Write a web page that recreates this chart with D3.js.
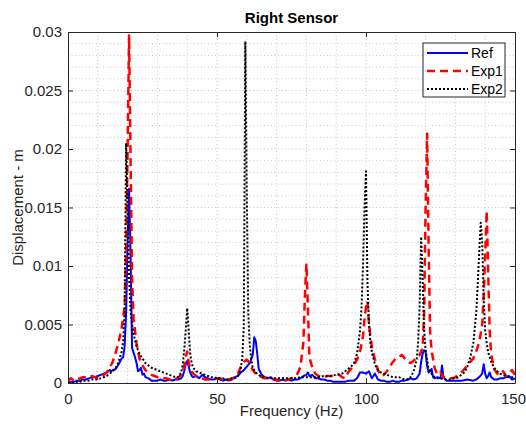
<!DOCTYPE html>
<html>
<head>
<meta charset="utf-8">
<script src="https://cdn.jsdelivr.net/npm/d3@7"></script>
<style>
    body { margin: 0; background: #fff; }
    svg { font-family: "Liberation Sans", Arial, sans-serif; }
</style>
</head>
<body>
<div id="chart"></div>
<script>
// [frequency Hz, displacement m]
const refData = [[0,0.0000],[1,0.0001],[2,0.0001],[3,0.0002],[4,0.0002],[5,0.0003],[6,0.0003],[7,0.0004],[8,0.0005],[9,0.0005],[10,0.0006],[11,0.0007],[12,0.0008],[13,0.0009],[14,0.0011],[14.5,0.0010],[15,0.0011],[16,0.0012],[17,0.0016],[18,0.0021],[18.5,0.0022],[19,0.0031],[19.5,0.0060],[20,0.0120],[20.5,0.0166],[21,0.0110],[21.5,0.0030],[22,0.0026],[22.5,0.0022],[23,0.0017],[23.5,0.0010],[24,0.0011],[24.5,0.0013],[25,0.0007],[25.5,0.0008],[26,0.0005],[27,0.0004],[28,0.0002],[29,0.0002],[30,0.0002],[31,0.0003],[32,0.0002],[33,0.0002],[34,0.0003],[35,0.0002],[36,0.0003],[37,0.0003],[38,0.0004],[38.5,0.0006],[39,0.0010],[39.5,0.0016],[40,0.0019],[40.5,0.0014],[41,0.0009],[41.5,0.0006],[42,0.0005],[43,0.0006],[43.5,0.0005],[44,0.0004],[45,0.0007],[46,0.0005],[47,0.0004],[48,0.0003],[49,0.0003],[50,0.0004],[51,0.0003],[52,0.0002],[53,0.0003],[54,0.0002],[55,0.0003],[56,0.0005],[57,0.0006],[58,0.0009],[59,0.0011],[60,0.0014],[61,0.0017],[62,0.0024],[62.5,0.0039],[63,0.0036],[63.5,0.0025],[64,0.0012],[65,0.0007],[66,0.0005],[67,0.0004],[68,0.0005],[69,0.0003],[70,0.0002],[71,0.0002],[72,0.0003],[73,0.0002],[74,0.0003],[75,0.0002],[76,0.0003],[77,0.0003],[78,0.0004],[79,0.0006],[80,0.0007],[80.5,0.0009],[81,0.0006],[82,0.0007],[83,0.0004],[84,0.0004],[85,0.0003],[86,0.0003],[87,0.0002],[88,0.0002],[89,0.0001],[90,0.0001],[91,0.0001],[92,0.0001],[93,0.0001],[94,0.0002],[95,0.0002],[96,0.0002],[97,0.0004],[98,0.0009],[99,0.0009],[100,0.0008],[101,0.0010],[102,0.0004],[103,0.0008],[104,0.0003],[105,0.0002],[106,0.0002],[107,0.0001],[108,0.0001],[109,0.0002],[110,0.0001],[111,0.0001],[112,0.0002],[113,0.0002],[114,0.0003],[115,0.0004],[116,0.0003],[117,0.0004],[118,0.0008],[118.5,0.0018],[119,0.0025],[119.5,0.0028],[120,0.0027],[120.5,0.0015],[121,0.0009],[121.5,0.0010],[122,0.0012],[122.5,0.0005],[123,0.0004],[124,0.0005],[125,0.0004],[125.5,0.0015],[126,0.0005],[127,0.0002],[128,0.0002],[130,0.0002],[132,0.0002],[134,0.0003],[136,0.0002],[137,0.0003],[138,0.0005],[139,0.0008],[139.5,0.0016],[140,0.0008],[140.5,0.0004],[141,0.0006],[141.5,0.0009],[142,0.0005],[143,0.0003],[144,0.0003],[145,0.0004],[146,0.0004],[147,0.0005],[148,0.0006],[149,0.0003],[150,0.0004]];

const exp1Data = [[0,0.0001],[0.5,0.0003],[1,0.0004],[2,0.0002],[3,0.0003],[4,0.0004],[5,0.0005],[6,0.0005],[7,0.0006],[8,0.0006],[9,0.0005],[10,0.0004],[11,0.0005],[12,0.0007],[13,0.0009],[14,0.0013],[15,0.0018],[16,0.0026],[17,0.0035],[18,0.0047],[19,0.0065],[19.5,0.0110],[20,0.0200],[20.5,0.0297],[21,0.0190],[21.5,0.0090],[22,0.0055],[23,0.0034],[24,0.0021],[25,0.0015],[26,0.0011],[27,0.0009],[28,0.0007],[29,0.0006],[30,0.0005],[31,0.0005],[32,0.0004],[33,0.0004],[34,0.0003],[35,0.0002],[36,0.0003],[37,0.0005],[38,0.0007],[39,0.0014],[39.5,0.0022],[40,0.0027],[40.5,0.0018],[41,0.0012],[42,0.0008],[43,0.0006],[44,0.0005],[45,0.0004],[46,0.0003],[47,0.0003],[48,0.0003],[49,0.0004],[50,0.0004],[51,0.0004],[52,0.0003],[53,0.0002],[54,0.0003],[55,0.0004],[56,0.0005],[57,0.0008],[58,0.0014],[59,0.0018],[60,0.0020],[61,0.0017],[62,0.0011],[63,0.0008],[64,0.0006],[65,0.0005],[66,0.0004],[67,0.0004],[68,0.0003],[70,0.0003],[72,0.0002],[74,0.0003],[75,0.0004],[76,0.0005],[77,0.0008],[78,0.0014],[79,0.0035],[79.5,0.0075],[80,0.0102],[80.5,0.0065],[81,0.0022],[82,0.0013],[83,0.0008],[84,0.0006],[85,0.0005],[86,0.0005],[87,0.0006],[88,0.0006],[89,0.0006],[90,0.0007],[91,0.0007],[92,0.0005],[93,0.0004],[94,0.0009],[95,0.0012],[96,0.0016],[97,0.0020],[98,0.0027],[99,0.0040],[99.5,0.0055],[100,0.0065],[100.5,0.0070],[101,0.0050],[102,0.0030],[103,0.0020],[104,0.0011],[105,0.0006],[106,0.0007],[107,0.0010],[108,0.0014],[109,0.0018],[110,0.0021],[111,0.0022],[112,0.0024],[113,0.0021],[114,0.0018],[115,0.0017],[116,0.0019],[117,0.0022],[118,0.0024],[119,0.0030],[119.5,0.0060],[120,0.0150],[120.5,0.0213],[121,0.0120],[121.5,0.0045],[122,0.0028],[123,0.0013],[124,0.0007],[125,0.0009],[126,0.0005],[127,0.0004],[128,0.0004],[129,0.0004],[130,0.0005],[131,0.0007],[132,0.0009],[133,0.0012],[134,0.0015],[135,0.0018],[136,0.0021],[137,0.0027],[138,0.0035],[139,0.0050],[139.5,0.0075],[140,0.0110],[140.5,0.0147],[141,0.0095],[141.5,0.0045],[142,0.0025],[143,0.0012],[144,0.0008],[145,0.0007],[146,0.0010],[147,0.0006],[148,0.0008],[149,0.0011],[150,0.0007]];

const exp2Data = [[0,0.0000],[2,0.0000],[3,0.0001],[4,0.0001],[5,0.0002],[6,0.0002],[7,0.0002],[8,0.0003],[9,0.0003],[10,0.0003],[11,0.0004],[12,0.0005],[13,0.0006],[14,0.0008],[15,0.0010],[16,0.0013],[17,0.0018],[18,0.0027],[18.5,0.0035],[19,0.0060],[19.5,0.0205],[20,0.0150],[20.5,0.0090],[21,0.0062],[21.5,0.0050],[22,0.0042],[23,0.0031],[24,0.0025],[25,0.0021],[26,0.0017],[27,0.0015],[28,0.0013],[29,0.0012],[30,0.0011],[31,0.0010],[32,0.0009],[33,0.0008],[34,0.0007],[35,0.0006],[36,0.0005],[37,0.0005],[38,0.0009],[38.5,0.0016],[39,0.0028],[39.5,0.0045],[40,0.0064],[40.5,0.0045],[41,0.0025],[41.5,0.0017],[42,0.0013],[43,0.0010],[44,0.0009],[45,0.0008],[46,0.0007],[47,0.0006],[48,0.0005],[49,0.0005],[50,0.0004],[51,0.0004],[52,0.0004],[53,0.0003],[54,0.0003],[55,0.0004],[56,0.0004],[57,0.0006],[57.5,0.0009],[58,0.0013],[58.5,0.0022],[59,0.0050],[59.5,0.0292],[60,0.0160],[60.5,0.0060],[61,0.0032],[61.5,0.0020],[62,0.0013],[63,0.0009],[64,0.0007],[65,0.0005],[66,0.0005],[68,0.0004],[70,0.0004],[72,0.0004],[74,0.0004],[76,0.0004],[78,0.0005],[80,0.0005],[82,0.0005],[84,0.0005],[86,0.0006],[88,0.0006],[90,0.0007],[92,0.0008],[93,0.0010],[94,0.0012],[95,0.0014],[96,0.0017],[97,0.0025],[98,0.0045],[98.5,0.0065],[99,0.0100],[99.5,0.0150],[100,0.0181],[100.5,0.0085],[101,0.0050],[101.5,0.0034],[102,0.0026],[103,0.0016],[104,0.0011],[105,0.0009],[106,0.0008],[107,0.0007],[108,0.0006],[109,0.0005],[110,0.0005],[111,0.0005],[112,0.0004],[113,0.0003],[114,0.0003],[115,0.0005],[116,0.0010],[117,0.0020],[117.5,0.0035],[118,0.0065],[118.5,0.0125],[119,0.0090],[119.5,0.0045],[120,0.0028],[121,0.0012],[122,0.0008],[123,0.0005],[124,0.0004],[125,0.0004],[126,0.0003],[127,0.0003],[128,0.0003],[129,0.0004],[130,0.0004],[131,0.0005],[132,0.0007],[133,0.0009],[134,0.0014],[135,0.0022],[136,0.0034],[137,0.0060],[137.5,0.0085],[138,0.0112],[138.5,0.0137],[139,0.0120],[139.5,0.0070],[140,0.0045],[140.5,0.0034],[141,0.0026],[142,0.0018],[143,0.0013],[144,0.0010],[145,0.0008],[146,0.0007],[147,0.0006],[148,0.0005],[149,0.0005],[150,0.0005]];

const seriesNames = ["Ref", "Exp1", "Exp2"];
const xTicks = [0, 50, 100, 150];
const yTicks = [0, 0.005, 0.01, 0.015, 0.02, 0.025, 0.03];

const width = 526, height = 426;
const margin = {top: 32, right: 11, bottom: 43, left: 68};
const w = width - margin.left - margin.right;
const h = height - margin.top - margin.bottom;

const styles = {
    Ref: {data: refData, color: "#0000ff", width: 2, dash: null},
    Exp1: {data: exp1Data, color: "#ff0000", width: 2.5, dash: "8,5"},
    Exp2: {data: exp2Data, color: "#000000", width: 2, dash: "2,2"}
};

const svg = d3.select("#chart").append("svg")
    .attr("width", width)
    .attr("height", height);

const g = svg.append("g").attr("transform", `translate(${margin.left},${margin.top})`);

const x = d3.scaleLinear().domain([0, 150]).range([0, w]);
const y = d3.scaleLinear().domain([0, 0.03]).range([h, 0]);

// grid (major + minor, all dotted)
g.append("g")
    .selectAll("line")
    .data(d3.range(10, 150, 10))
    .join("line")
    .attr("x1", d => x(d)).attr("x2", d => x(d))
    .attr("y1", 0).attr("y2", h)
    .attr("stroke", "#c8c8c8")
    .attr("stroke-width", 1)
    .attr("stroke-dasharray", "1,2.5");

g.append("g")
    .selectAll("line")
    .data(d3.range(1, 30).map(d => d * 0.001))
    .join("line")
    .attr("x1", 0).attr("x2", w)
    .attr("y1", d => y(d)).attr("y2", d => y(d))
    .attr("stroke", "#c8c8c8")
    .attr("stroke-width", 1)
    .attr("stroke-dasharray", "1,2.5");

// lines
const line = d3.line()
    .x(d => x(d[0]))
    .y(d => y(d[1]));

g.append("defs").append("clipPath").attr("id", "clip")
    .append("rect").attr("width", w).attr("height", h);

const plot = g.append("g").attr("clip-path", "url(#clip)");

seriesNames.forEach(name => {
    const s = styles[name];
    plot.append("path")
        .datum(s.data)
        .attr("fill", "none")
        .attr("stroke", s.color)
        .attr("stroke-width", s.width)
        .attr("stroke-dasharray", s.dash)
        .attr("stroke-linejoin", "round")
        .attr("d", line);
});

// axes, ticks pointing inwards
const axisColor = "#262626";
const xAxis = g.append("g")
    .attr("transform", `translate(0,${h})`)
    .call(d3.axisBottom(x).tickValues(xTicks).tickSizeInner(-5).tickSizeOuter(0).tickPadding(10));
const yAxis = g.append("g")
    .call(d3.axisLeft(y).tickValues(yTicks).tickFormat(d => d3.format("~g")(d)).tickSizeInner(-5).tickSizeOuter(0).tickPadding(6));
const xTop = g.append("g")
    .call(d3.axisTop(x).tickValues(xTicks).tickSizeInner(-5).tickSizeOuter(0).tickFormat(""));
const yRight = g.append("g")
    .attr("transform", `translate(${w},0)`)
    .call(d3.axisRight(y).tickValues(yTicks).tickSizeInner(-5).tickSizeOuter(0).tickFormat(""));

[xAxis, yAxis, xTop, yRight].forEach(a => {
    a.select(".domain").attr("stroke", axisColor);
    a.selectAll(".tick line").attr("stroke", axisColor);
    a.selectAll("text")
        .attr("fill", axisColor)
        .style("font-size", "15px")
        .style("font-family", "'Liberation Sans', Arial, sans-serif");
});

// keep the last x label inside the window
xAxis.selectAll(".tick text").filter(d => d === 150).attr("dx", "-2");

// title and labels
svg.append("text")
    .attr("x", margin.left + w / 2)
    .attr("y", 23)
    .attr("text-anchor", "middle")
    .style("font-size", "15px")
    .style("font-weight", "bold")
    .attr("fill", "#000")
    .text("Right Sensor");

svg.append("text")
    .attr("x", margin.left + w / 2)
    .attr("y", 416)
    .attr("text-anchor", "middle")
    .style("font-size", "15px")
    .attr("fill", axisColor)
    .text("Frequency (Hz)");

svg.append("text")
    .attr("transform", `translate(23,${margin.top + h / 2}) rotate(-90)`)
    .attr("text-anchor", "middle")
    .style("font-size", "15px")
    .attr("fill", axisColor)
    .text("Displacement - m");

// legend
const legend = svg.append("g").attr("transform", "translate(423,43)");
legend.append("rect")
    .attr("width", 82)
    .attr("height", 54)
    .attr("fill", "#fff")
    .attr("stroke", axisColor)
    .attr("stroke-width", 1);

seriesNames.forEach((name, i) => {
    const s = styles[name];
    const ly = 10 + i * 18;
    legend.append("line")
        .attr("x1", 4).attr("x2", 45)
        .attr("y1", ly).attr("y2", ly)
        .attr("stroke", s.color)
        .attr("stroke-width", s.width)
        .attr("stroke-dasharray", s.dash);
    legend.append("text")
        .attr("x", 48)
        .attr("y", ly + 5)
        .style("font-size", "14px")
        .attr("fill", "#000")
        .text(name);
});
</script>
</body>
</html>
